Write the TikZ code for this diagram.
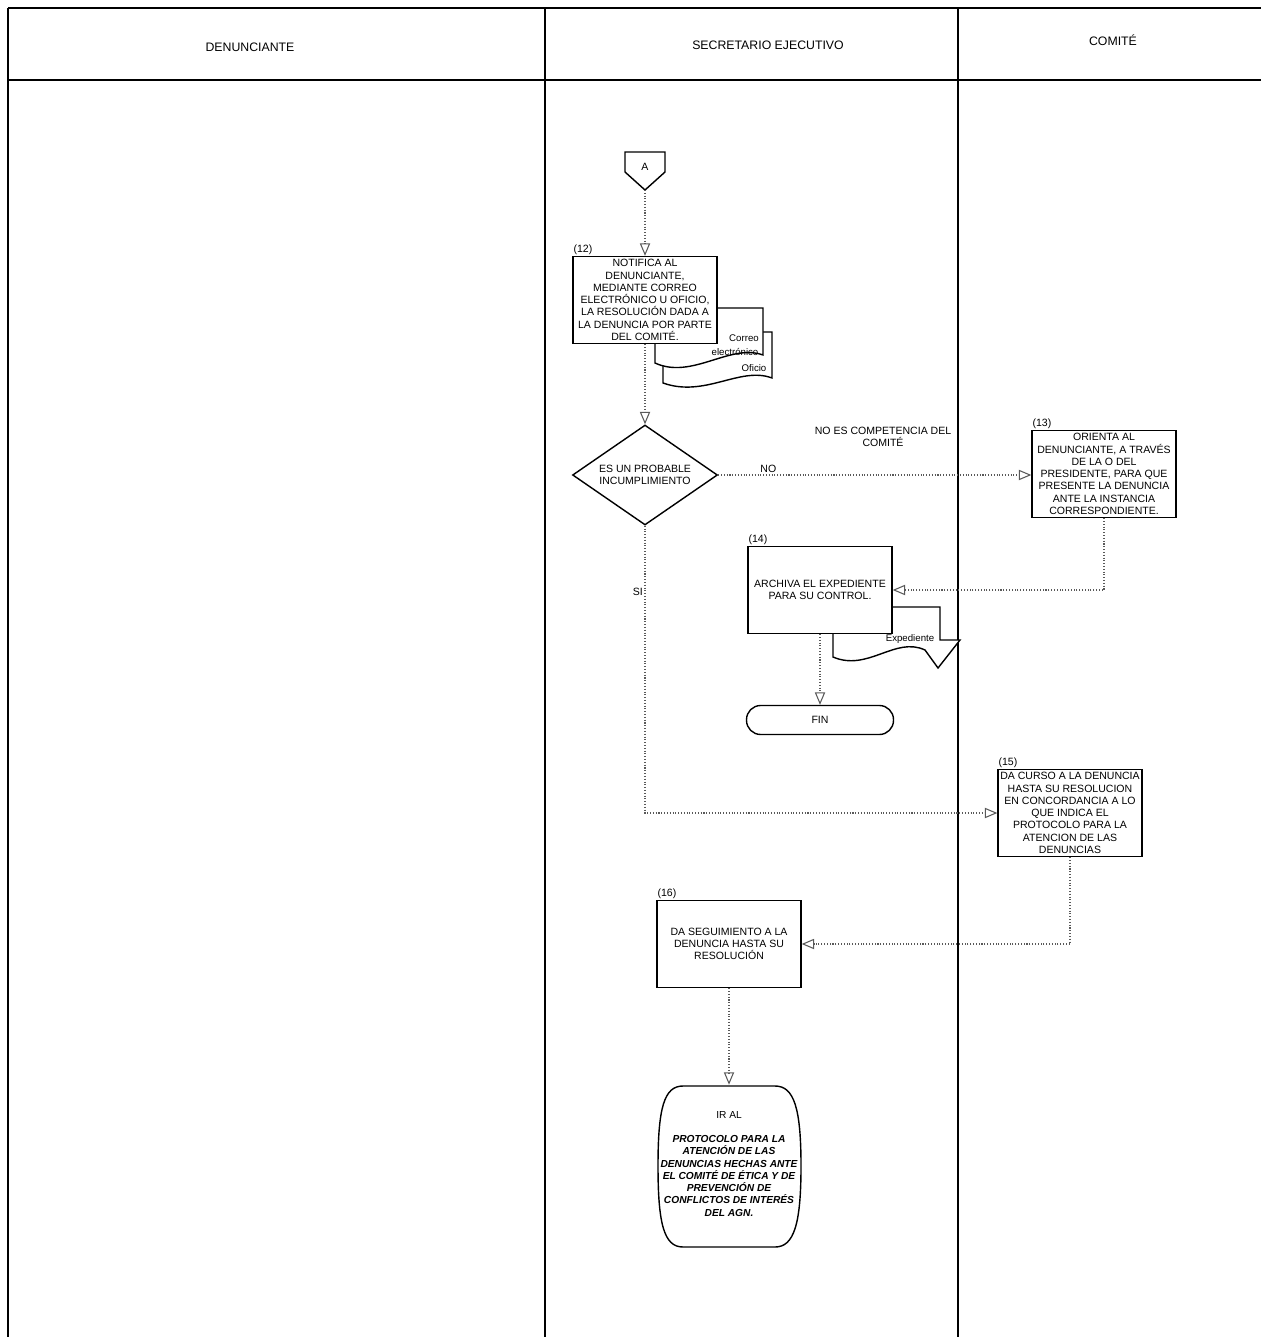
\documentclass[tikz,border=0pt]{standalone}
\usepackage{fontspec}
\setmainfont{Liberation Sans}
\usetikzlibrary{shapes.geometric,arrows}
\newcommand{\chico}{\fontsize{6}{7}\selectfont}
\newcommand{\titulo}{\fontsize{7}{8}\selectfont}
\newcommand{\diminuto}{\fontsize{5.5}{6}\selectfont}
\newcommand{\negrita}{\fontsize{5.8}{7}\selectfont\bfseries\itshape}
\tikzset{every node/.style={font=\chico, inner sep=1pt}}
\tikzset{proceso/.style={draw, thick, fill=white, minimum width=2.88cm, minimum height=1.74cm, align=center},
  numero/.style={label={[anchor=south west, inner sep=0.5pt]north west:#1}},
  flujo/.style={densely dotted, semithick, gray!70!black, -open triangle 45},
  carril/.style={semithick, black},
  hoja/.style={thick, fill=white}}

\begin{document}
\begin{tikzpicture}[x=0.02cm, y=-0.02cm]
    \useasboundingbox (0,0) rectangle (1261,1337);
     \begin{scope}
      \draw[carril] (8,8) -- (1261,8);
      \draw[carril] (8,80) -- (1261,80);
      \draw[carril] (8,8) -- (8,1337);
      \draw[carril] (545,8) -- (545,1337);
      \draw[carril] (958,8) -- (958,1337);
      \node[font=\titulo] (denunciante) at (250,47) {DENUNCIANTE};
      \node[font=\titulo] (secretario) at (768,45) {SECRETARIO EJECUTIVO};
      \node[font=\titulo] (comite) at (1113,40) {COMITÉ};
     \end{scope}
     \begin{scope}
      \draw[thick] (625,152) -- (665,152) -- (665,172) -- (645,190) -- (625,172) -- cycle;
      \node (conA) at (645,167) {A};
      \coordinate (Apunta) at (645,190);
      \draw[hoja] (663,332) -- (772,332) -- (772,378) .. controls (740,366) and (705,398) .. (663,383) -- cycle;
      \draw[hoja] (655,308) -- (763,308) -- (763,355) .. controls (730,343) and (692,380) .. (655,363) -- cycle;
      \node[font=\diminuto] (correo) at (744,338) {Correo};
      \node[font=\diminuto] (electronico) at (735,352) {electrónico};
      \node[font=\diminuto] (oficio) at (754,368) {Oficio};
      \node (b12) [proceso, numero=(12)] at (645,300) {NOTIFICA AL\\DENUNCIANTE,\\MEDIANTE CORREO\\ELECTRÓNICO U OFICIO,\\LA RESOLUCIÓN DADA A\\LA DENUNCIA POR PARTE\\DEL COMITÉ.};
      \node (dec) [draw, thick, diamond, shape aspect=1.45, minimum width=2.9cm, minimum height=2cm, inner sep=0pt, align=center] at (645,475) {ES UN PROBABLE\\INCUMPLIMIENTO};
      \node (b13) [proceso, numero=(13)] at (1104,474) {ORIENTA AL\\DENUNCIANTE, A TRAVÉS\\DE LA O DEL\\PRESIDENTE, PARA QUE\\PRESENTE LA DENUNCIA\\ANTE LA INSTANCIA\\CORRESPONDIENTE.};
      \node[align=center] (nocompetencia) at (883,437) {NO ES COMPETENCIA DEL\\COMITÉ};
      \draw[hoja] (833,607) -- (940,607) -- (940,640) -- (960,640) -- (938,668) -- (925,650) .. controls (895,636) and (868,672) .. (833,657) -- cycle;
      \node[font=\diminuto] (expediente) at (910,639) {Expediente};
      \node (b14) [proceso, numero=(14)] at (820,590) {ARCHIVA EL EXPEDIENTE\\PARA SU CONTROL.};
      \node (fin) [draw, thick, rounded corners=8pt, minimum width=2.94cm, minimum height=0.58cm] at (820,720) {FIN};
      \node (b15) [proceso, numero=(15)] at (1070,813) {DA CURSO A LA DENUNCIA\\HASTA SU RESOLUCION\\EN CONCORDANCIA A LO\\QUE INDICA EL\\PROTOCOLO PARA LA\\ATENCION DE LAS\\DENUNCIAS};
      \node (b16) [proceso, numero=(16)] at (729,944) {DA SEGUIMIENTO A LA\\DENUNCIA HASTA SU\\RESOLUCIÓN};
      \draw[thick] (683,1086) -- (775,1086) .. controls (794,1086) and (801,1108) .. (801,1166) .. controls (801,1224) and (794,1247) .. (775,1247) -- (683,1247) .. controls (664,1247) and (658,1224) .. (658,1166) .. controls (658,1108) and (664,1086) .. (683,1086) -- cycle;
      \node (ir) [font=\negrita, align=center, minimum width=2.9cm, minimum height=3.16cm] at (729,1164) {{\mdseries\upshape IR AL}\\[6.5pt]PROTOCOLO PARA LA\\ATENCIÓN DE LAS\\DENUNCIAS HECHAS ANTE\\EL COMITÉ DE ÉTICA Y DE\\PREVENCIÓN DE\\CONFLICTOS DE INTERÉS\\DEL AGN.};
     \end{scope}
     \draw[flujo] (Apunta) -- (b12.north);
     \draw[flujo] (b12.south) -- (dec.north);
     \draw[flujo] (dec.east) -- (dec.east -| b13.west) node[pos=0.16, above, black] (no) {NO};
     \draw[flujo] (b13.south) |- (b14.east);
     \draw[flujo] (b14.south) -- (fin.north);
     \draw[flujo] (dec.south) |- (b15.west) node[pos=0.115, left, black] (si) {SI};
     \draw[flujo] (b15.south) |- (b16.east);
     \draw[flujo] (b16.south) -- (ir.north);
\end{tikzpicture}
\end{document}
